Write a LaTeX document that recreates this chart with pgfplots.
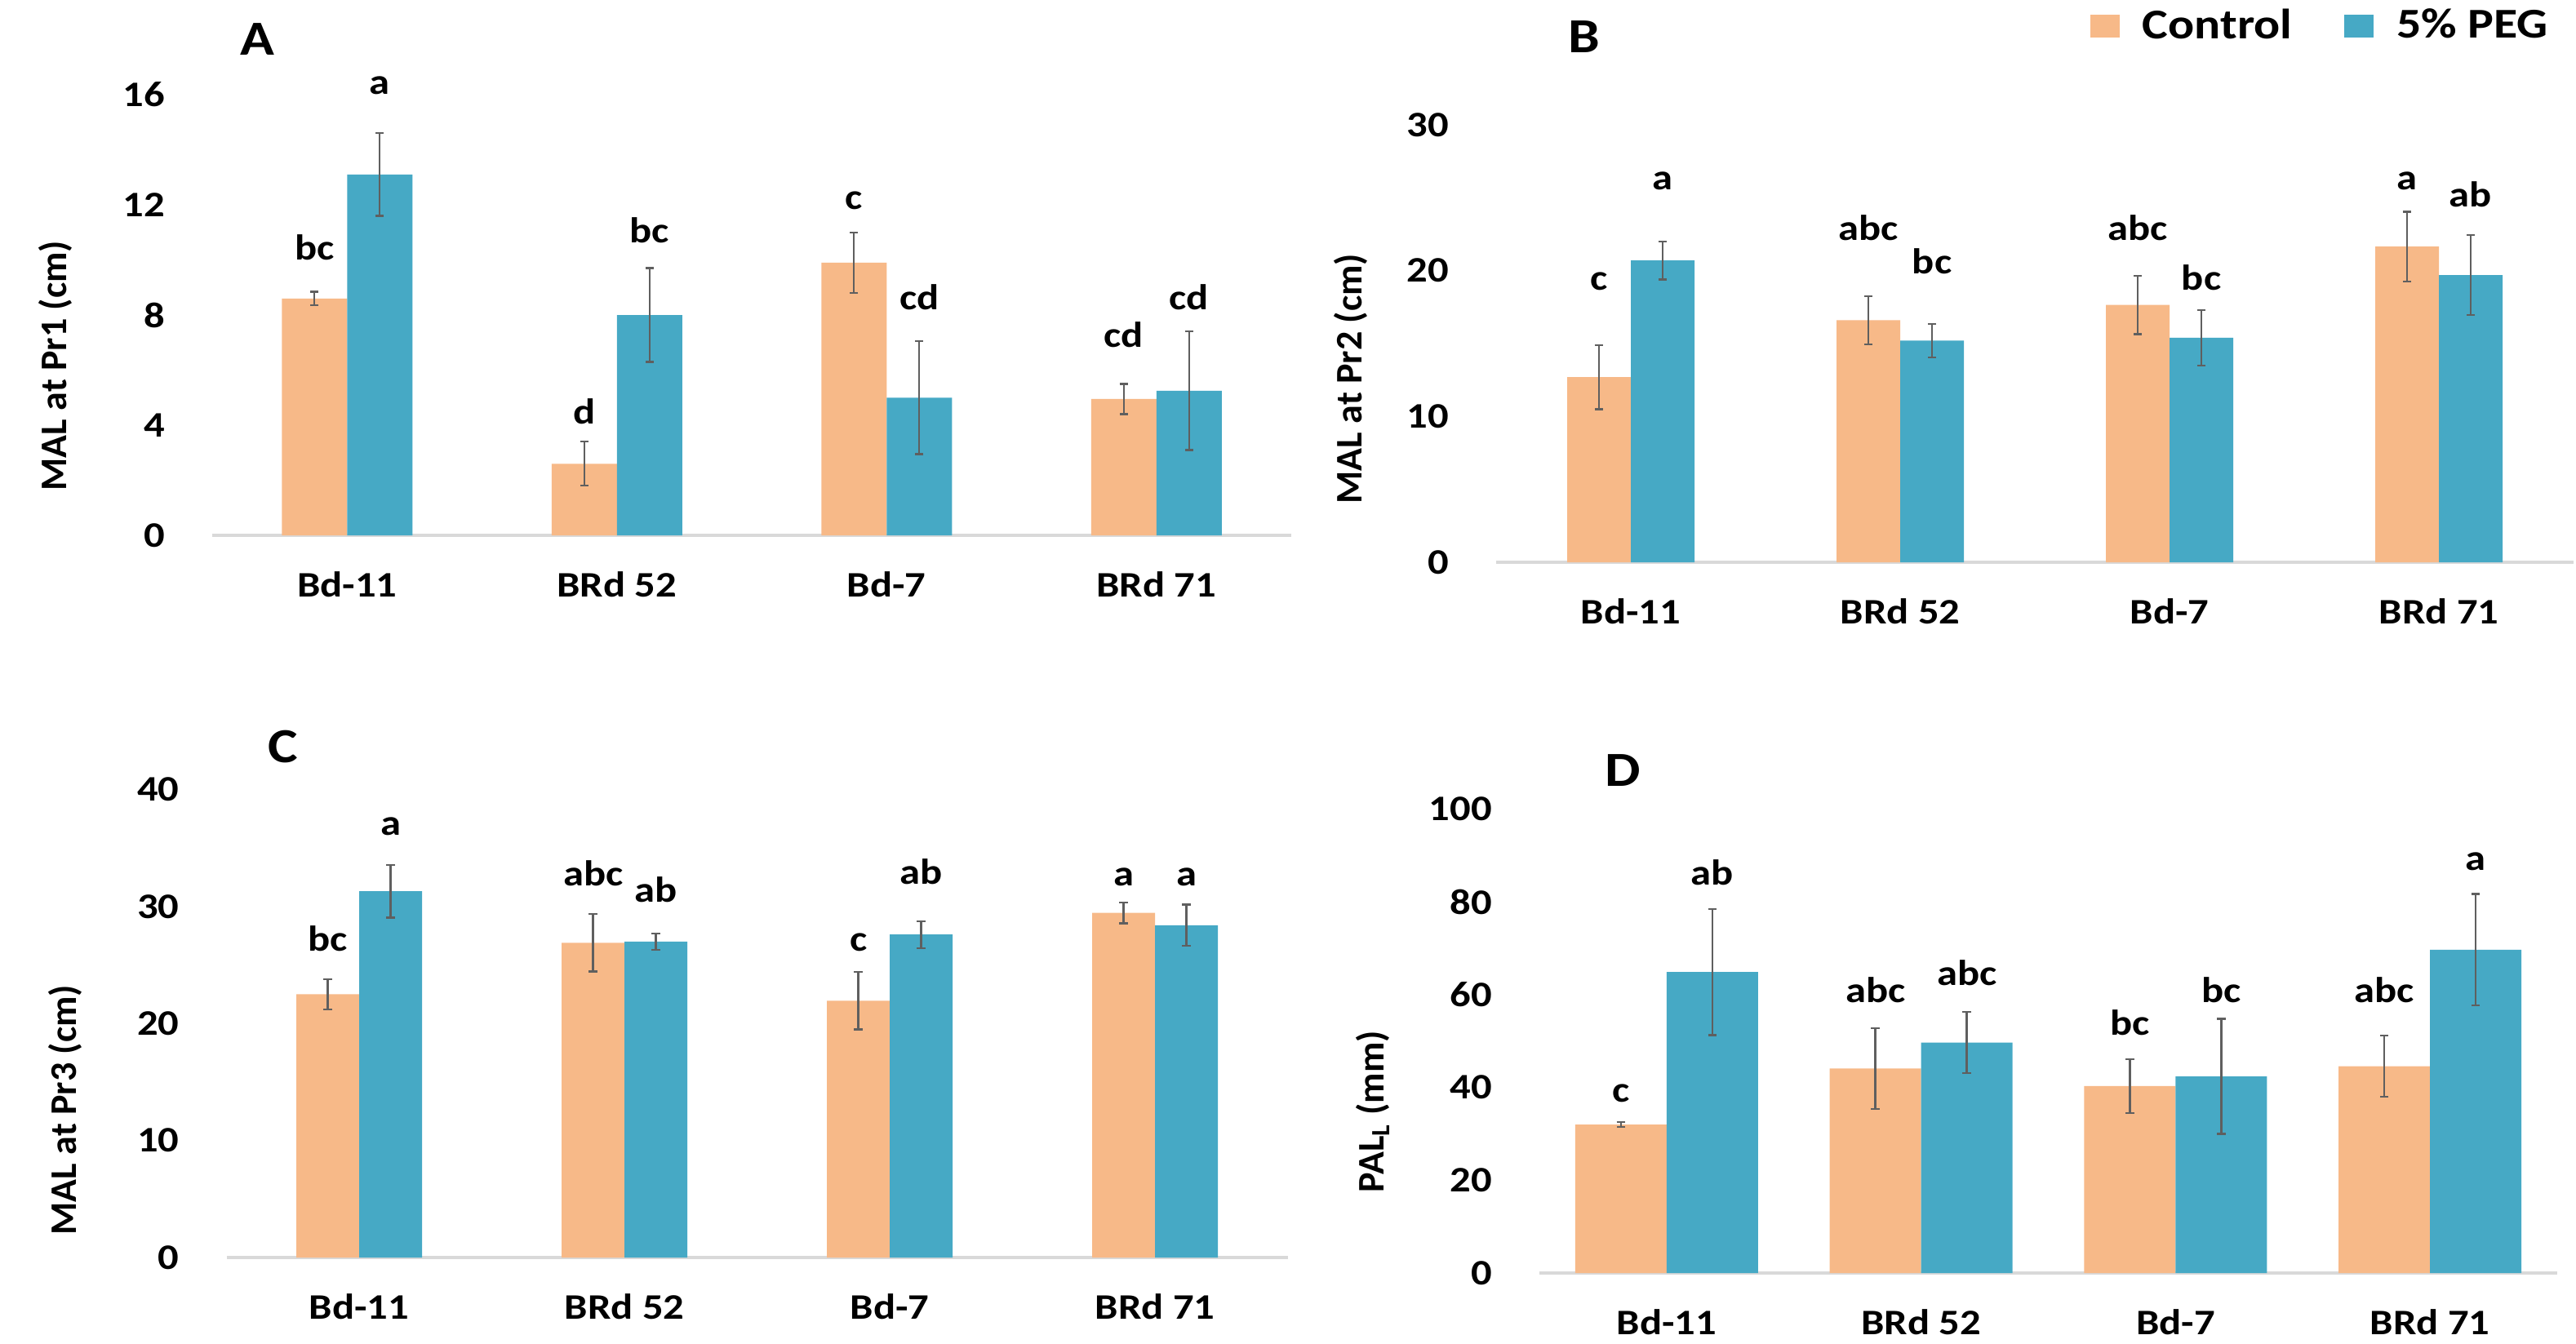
\documentclass[border=0pt]{standalone}
\usepackage{fontspec}
\setmainfont{Carlito}[FakeStretch=1.15]
\newfontfamily\plainfont{Carlito}
\usepackage{pgfplots}
\usepackage{pgfplotstable}
\pgfplotsset{compat=1.18}

\definecolor{ctrlc}{RGB}{247,185,136}
\definecolor{pegc}{RGB}{70,169,197}
\definecolor{errc}{RGB}{95,95,95}
\definecolor{basec}{RGB}{217,217,217}

% columns: group, control mean, control SE, PEG mean, PEG SE
\pgfplotstableread{
x ctrl ctrlerr peg pegerr
0 8.6  0.25 13.1 1.5
1 2.6  0.8  8.0  1.7
2 9.9  1.1  5.0  2.05
3 4.95 0.55 5.25 2.15
}\dataA
\pgfplotstableread{
x ctrl ctrlerr peg pegerr
0 12.7  2.2  20.7 1.3
1 16.6  1.65 15.2 1.15
2 17.65 2.0  15.4 1.9
3 21.65 2.4  19.7 2.75
}\dataB
\pgfplotstableread{
x ctrl ctrlerr peg pegerr
0 22.5  1.3  31.3 2.25
1 26.9  2.45 27.0 0.7
2 21.95 2.45 27.6 1.15
3 29.45 0.9  28.4 1.75
}\dataC
\pgfplotstableread{
x ctrl ctrlerr peg pegerr
0 32.0 0.5 64.9 13.6
1 44.1 8.7 49.7 6.6
2 40.3 5.8 42.4 12.4
3 44.6 6.6 69.7 12.0
}\dataD

\tikzset{lab/.style={anchor=base, inner sep=0pt, font=\bfseries\fontsize{11}{13}\selectfont}}

\pgfplotsset{
  panel/.style={
    scale only axis, ybar=0pt, ymin=0, xmin=-0.5, xmax=3.5,
    anchor=south west, clip=false,
    axis line style={draw=none}, major tick length=0pt,
    xtick={0,1,2,3}, xticklabels={Bd-11,BRd 52,Bd-7,BRd 71},
    tick label style={font=\bfseries\fontsize{11}{13}\selectfont},
    /pgf/number format/assume math mode=true,
    xticklabel style={yshift=-7.5pt},
    yticklabel style={xshift=-11pt},
    extra y ticks={0}, extra y tick labels={},
    extra y tick style={grid=major, major grid style={draw=basec, line width=1pt}},
  },
  ctrlbar/.style={fill=ctrlc, draw=none,
    error bars/.cd, y dir=both, y explicit,
    error bar style={draw=errc, line width=0.6pt},
    error mark options={draw=errc, line width=0.6pt, mark size=1.3pt, rotate=90}},
  pegbar/.style={fill=pegc, draw=none,
    error bars/.cd, y dir=both, y explicit,
    error bar style={draw=errc, line width=0.6pt},
    error mark options={draw=errc, line width=0.6pt, mark size=1.3pt, rotate=90}},
}

\begin{document}
\begin{tikzpicture}
\useasboundingbox (0pt,0pt) rectangle (789pt,-411.75pt);

% ---------- A ----------
\begin{axis}[panel, at={(65pt,-164pt)}, width=330.5pt, height=135pt,
  bar width=20pt, ymax=16, ytick={0,4,8,12,16}]
\addplot[ctrlbar] table[x=x, y=ctrl, y error=ctrlerr]{\dataA};
\addplot[pegbar]  table[x=x, y=peg,  y error=pegerr]{\dataA};
\node[lab, xshift=-10pt] at (axis cs:0,10.0)  {bc};
\node[lab, xshift=10pt]  at (axis cs:0,16.0)  {a};
\node[lab, xshift=-10pt] at (axis cs:1,4.03)  {d};
\node[lab, xshift=10pt]  at (axis cs:1,10.62) {bc};
\node[lab, xshift=-10pt] at (axis cs:2,11.85) {c};
\node[lab, xshift=10pt]  at (axis cs:2,8.2)   {cd};
\node[lab, xshift=-10pt] at (axis cs:3,6.84)  {cd};
\node[lab, xshift=10pt]  at (axis cs:3,8.2)   {cd};
\end{axis}

% ---------- B ----------
\begin{axis}[panel, at={(458.25pt,-172.25pt)}, width=330pt, height=134pt,
  bar width=19.5pt, ymax=30, ytick={0,10,20,30},
  legend style={at={(0.5417,1.2257)}, anchor=west, draw=none, fill=none,
    legend columns=2, font=\bfseries\fontsize{13}{15}\selectfont,
    /tikz/every odd column/.append style={column sep=5pt},
    /tikz/every even column/.append style={column sep=14pt}},
  legend image code/.code={\fill[#1] (0pt,-3.5pt) rectangle (9pt,3.5pt);}]
\addplot[ctrlbar] table[x=x, y=ctrl, y error=ctrlerr]{\dataB};
\addplot[pegbar]  table[x=x, y=peg,  y error=pegerr]{\dataB};
\legend{Control, 5\% PEG}
\node[lab, xshift=-9.75pt] at (axis cs:0,18.65) {c};
\node[lab, xshift=9.75pt]  at (axis cs:0,25.57) {a};
\node[lab, xshift=-9.75pt] at (axis cs:1,22.1)  {abc};
\node[lab, xshift=9.75pt]  at (axis cs:1,19.8)  {bc};
\node[lab, xshift=-9.75pt] at (axis cs:2,22.1)  {abc};
\node[lab, xshift=9.75pt]  at (axis cs:2,18.65) {bc};
\node[lab, xshift=-9.75pt] at (axis cs:3,25.57) {a};
\node[lab, xshift=9.75pt]  at (axis cs:3,24.4)  {ab};
\end{axis}

% ---------- C ----------
\begin{axis}[panel, at={(69.4pt,-385.25pt)}, width=325pt, height=143.4pt,
  bar width=19.25pt, ymax=40, ytick={0,10,20,30,40}]
\addplot[ctrlbar] table[x=x, y=ctrl, y error=ctrlerr]{\dataC};
\addplot[pegbar]  table[x=x, y=peg,  y error=pegerr]{\dataC};
\node[lab, xshift=-9.6pt] at (axis cs:0,26.16) {bc};
\node[lab, xshift=9.6pt]  at (axis cs:0,36.07) {a};
\node[lab, xshift=-9.6pt] at (axis cs:1,31.8)  {abc};
\node[lab, xshift=9.6pt]  at (axis cs:1,30.35) {ab};
\node[lab, xshift=-9.6pt] at (axis cs:2,26.16) {c};
\node[lab, xshift=9.6pt]  at (axis cs:2,31.9)  {ab};
\node[lab, xshift=-9.6pt] at (axis cs:3,31.8)  {a};
\node[lab, xshift=9.6pt]  at (axis cs:3,31.8)  {a};
\end{axis}

% ---------- D ----------
\begin{axis}[panel, at={(471.5pt,-390pt)}, width=311.75pt, height=142.1pt,
  bar width=28pt, ymax=100, ytick={0,20,40,60,80,100}]
\addplot[ctrlbar] table[x=x, y=ctrl, y error=ctrlerr]{\dataD};
\addplot[pegbar]  table[x=x, y=peg,  y error=pegerr]{\dataD};
\node[lab, xshift=-14pt] at (axis cs:0,36.8)  {c};
\node[lab, xshift=14pt]  at (axis cs:0,83.7)  {ab};
\node[lab, xshift=-14pt] at (axis cs:1,58.25) {abc};
\node[lab, xshift=14pt]  at (axis cs:1,61.96) {abc};
\node[lab, xshift=-14pt] at (axis cs:2,51.2)  {bc};
\node[lab, xshift=14pt]  at (axis cs:2,58.25) {bc};
\node[lab, xshift=-14pt] at (axis cs:3,58.25) {abc};
\node[lab, xshift=14pt]  at (axis cs:3,86.9)  {a};
\end{axis}

% panel letters and axis titles
\begin{scope}[every node/.style={font=\bfseries\fontsize{15}{17}\selectfont, inner sep=0pt}]
\node at (78.75pt,-12pt)   {A};
\node at (485.25pt,-11.25pt) {B};
\node at (86.75pt,-228.75pt) {C};
\node at (497pt,-236pt)    {D};
\end{scope}
\begin{scope}[every node/.style={rotate=90, inner sep=0pt,
    font=\plainfont\bfseries\fontsize{11.5}{13}\selectfont}]
\node at (17pt,-112pt)  {MAL at Pr1 (cm)};
\node at (413.75pt,-116pt) {MAL at Pr2 (cm)};
\node at (20pt,-340pt)     {MAL at Pr3 (cm)};
\node at (420.5pt,-340.5pt) {PAL\textsubscript{L} (mm)};
\end{scope}
\end{tikzpicture}
\end{document}
